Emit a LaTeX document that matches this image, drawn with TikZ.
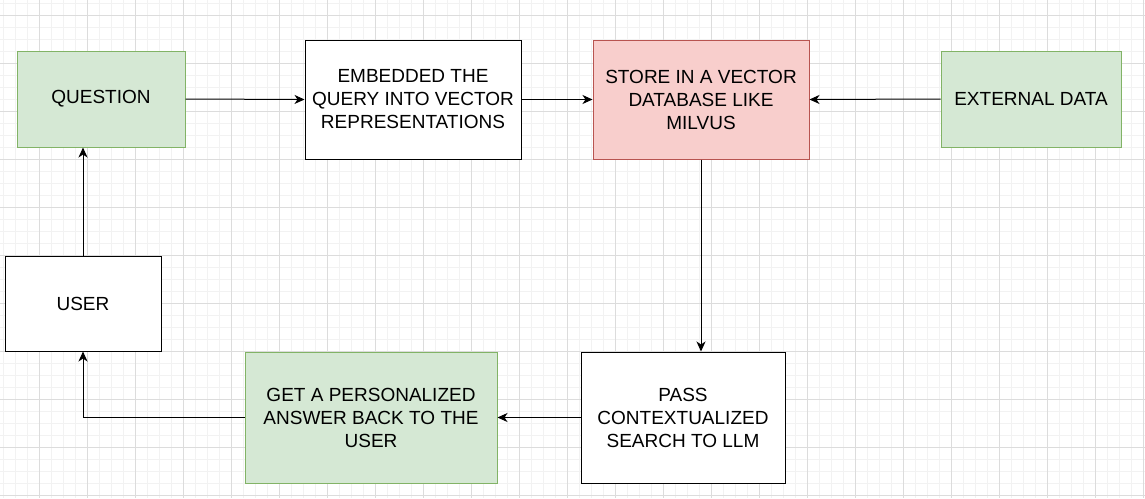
\documentclass[tikz,border=0pt]{standalone}
\usepackage{fontspec}
\setmainfont{Liberation Sans}
\usetikzlibrary{arrows.meta,positioning}
\definecolor{greenfill}{HTML}{D5E8D4}
\definecolor{greenline}{HTML}{82B366}
\definecolor{redfill}{HTML}{F8CECC}
\definecolor{redline}{HTML}{B85450}
\definecolor{gridminor}{HTML}{F2F2F2}
\definecolor{gridmajor}{HTML}{DCDCDC}

\begin{document}
\begin{tikzpicture}[
    x=1pt, y=-1pt,
    box/.style={rectangle, draw, line width=1pt, align=center, inner sep=0pt,
        font=\fontsize{19}{23}\selectfont},
    greenbox/.style={box, fill=greenfill, draw=greenline},
    redbox/.style={box, fill=redfill, draw=redline},
    link/.style={-{Stealth[length=10pt,width=9pt,inset=3pt]}, line width=1pt}
]
    % background and grid
    \fill[white] (0,0) rectangle (1145,498);
    \useasboundingbox (0,0) rectangle (1145,498);
    \foreach \x in {3.3,15.3,...,1145} \draw[gridminor] (\x,0) -- (\x,498);
    \foreach \y in {3,15,...,498} \draw[gridminor] (0,\y) -- (1145,\y);
    \foreach \x in {39.3,87.3,...,1145} \draw[gridmajor] (\x,0) -- (\x,498);
    \foreach \y in {15,63,...,498} \draw[gridmajor] (0,\y) -- (1145,\y);

    % boxes
    \node[greenbox, minimum width=168pt, minimum height=96pt] (question) at (101,99) {QUESTION};
    \node[box, fill=white, minimum width=216pt, minimum height=119pt] (embed) at (413,99.5)
        {EMBEDDED THE\\QUERY INTO VECTOR\\REPRESENTATIONS};
    \node[redbox, minimum width=216pt, minimum height=119pt] (store) at (701,99.5)
        {STORE IN A VECTOR\\DATABASE LIKE\\MILVUS};
    \node[greenbox, minimum width=180pt, minimum height=96pt] (external) at (1031,99) {EXTERNAL DATA};
    \node[box, fill=white, minimum width=156pt, minimum height=95pt] (user) at (83,303.5) {USER};
    \node[greenbox, minimum width=252pt, minimum height=131pt] (answer) at (371,417.5)
        {GET A PERSONALIZED\\ANSWER BACK TO THE\\USER};
    \node[box, fill=white, minimum width=204pt, minimum height=131pt] (pass) at (683,417.5)
        {PASS\\CONTEXTUALIZED\\SEARCH TO LLM};

    % connectors
    \draw[link] (question.east) -- (embed.west);
    \draw[link] (embed.east) -- (store.west);
    \draw[link] (external.west) -- (store.east);
    \draw[link] (store.south) -- (store.south |- pass.north);
    \draw[link] (pass.west) -- (answer.east);
    \draw[link] (answer.west) -| (user.south);
    \draw[link] (user.north) -- (user.north |- question.south);
\end{tikzpicture}
\end{document}
